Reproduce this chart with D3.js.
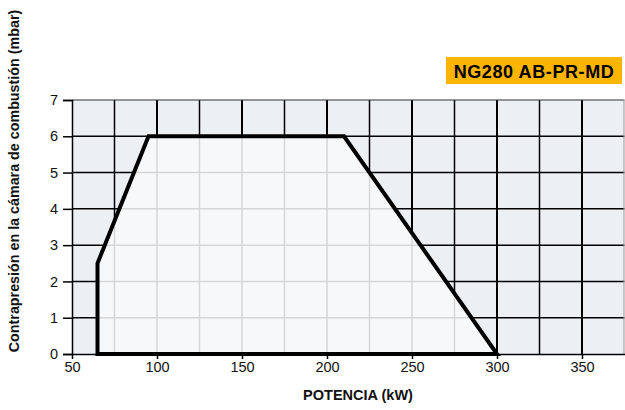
<!DOCTYPE html>
<html><head><meta charset="utf-8">
<script src="https://cdn.jsdelivr.net/npm/d3@7"></script>
<style>body{margin:0;background:#fff}svg{display:block;font-family:"Liberation Sans",Arial,sans-serif}</style>
</head><body><svg id="c" width="625" height="410"></svg>
<script>
const xTicks = [50, 100, 150, 200, 250, 300, 350];
const xGrid = [75, 100, 125, 150, 175, 200, 225, 250, 275, 300, 325, 350];
const yTicks = [0, 1, 2, 3, 4, 5, 6, 7];
const envPower = [65, 65, 95, 210, 300];
const envPressure = [0, 2.5, 6, 6, 0];
const title = "NG280 AB-PR-MD";
const xLabel = "POTENCIA (kW)";
const yLabel = "Contrapresión en la cámara de combustión (mbar)";

const svg = d3.select("#c");
const x = d3.scaleLinear().domain([50, 375]).range([72, 624.5]);
const y = d3.scaleLinear().domain([0, 7]).range([354, 100]);
const pts = envPower.map((p, i) => [x(p), y(envPressure[i])]);

svg.append("rect").attr("x", x(50)).attr("y", y(7)).attr("width", x(375) - x(50)).attr("height", y(0) - y(7)).attr("fill", "#edf0f3");

function grid(g, color, wMajor, wMinor) {
  g.selectAll(".v").data(xGrid).join("line")
    .attr("x1", d => x(d)).attr("x2", d => x(d)).attr("y1", y(0)).attr("y2", y(7))
    .attr("stroke", color).attr("stroke-width", d => d % 50 === 0 ? wMajor : wMinor);
  g.selectAll(".h").data(yTicks.filter(d => d > 0 && d < 7)).join("line")
    .attr("x1", x(50)).attr("x2", x(375)).attr("y1", d => y(d)).attr("y2", d => y(d))
    .attr("stroke", color).attr("stroke-width", wMinor);
}
grid(svg.append("g"), "#000", 2, 1.5);

// top and right border
svg.append("line").attr("x1", x(50)).attr("x2", x(375)).attr("y1", y(7)).attr("y2", y(7)).attr("stroke", "#333").attr("stroke-width", 1.2);
svg.append("line").attr("x1", x(375) - 0.5).attr("x2", x(375) - 0.5).attr("y1", y(7)).attr("y2", y(0)).attr("stroke", "#999").attr("stroke-width", 1);

svg.append("clipPath").attr("id", "env").append("polygon").attr("points", pts.map(p => p.join(",")).join(" "));
svg.append("polygon").attr("points", pts.map(p => p.join(",")).join(" ")).attr("fill", "#f7f8fa");
grid(svg.append("g").attr("clip-path", "url(#env)"), "#d6d6d6", 1.5, 1.5);

// axes
const ya = svg.append("g").attr("transform", `translate(${x(50)},0)`)
  .call(d3.axisLeft(y).tickValues(yTicks).tickSize(9).tickPadding(5).tickFormat(d3.format("d")));
ya.select(".domain").attr("stroke", "#000").attr("stroke-width", 1.5);
ya.selectAll(".tick line").attr("stroke", "#000").attr("stroke-width", 1.5);
ya.selectAll("text").attr("font-size", 14.5).attr("fill", "#111").attr("font-family", "Liberation Sans, Arial, sans-serif");

const xa = svg.append("g").attr("transform", `translate(0,${y(0)})`)
  .call(d3.axisBottom(x).tickValues(xTicks).tickSize(5).tickPadding(3).tickSizeOuter(0));
xa.select(".domain").attr("stroke", "#000").attr("stroke-width", 1.5);
xa.selectAll(".tick line").attr("stroke", "#000").attr("stroke-width", 1.5);
xa.selectAll("text").attr("font-size", 14.5).attr("fill", "#111").attr("font-family", "Liberation Sans, Arial, sans-serif");

// envelope
svg.append("polygon").attr("points", pts.map(p => p.join(",")).join(" "))
  .attr("fill", "none").attr("stroke", "#000").attr("stroke-width", 4).attr("stroke-linejoin", "miter");

// title box
svg.append("rect").attr("x", 446).attr("y", 57).attr("width", 176).attr("height", 27).attr("fill", "#fbb400");
svg.append("text").attr("x", 534).attr("y", 77.5).attr("text-anchor", "middle").attr("font-size", 18).attr("letter-spacing", 0.6).attr("font-weight", "bold").attr("fill", "#000").text(title);

svg.append("text").attr("x", 358).attr("y", 400).attr("text-anchor", "middle").attr("font-size", 14.5).attr("font-weight", "bold").attr("fill", "#111").text(xLabel);
svg.append("text").attr("transform", "translate(19,181) rotate(-90)").attr("text-anchor", "middle").attr("font-size", 14.3).attr("font-weight", "bold").attr("fill", "#111").text(yLabel);
</script></body></html>
